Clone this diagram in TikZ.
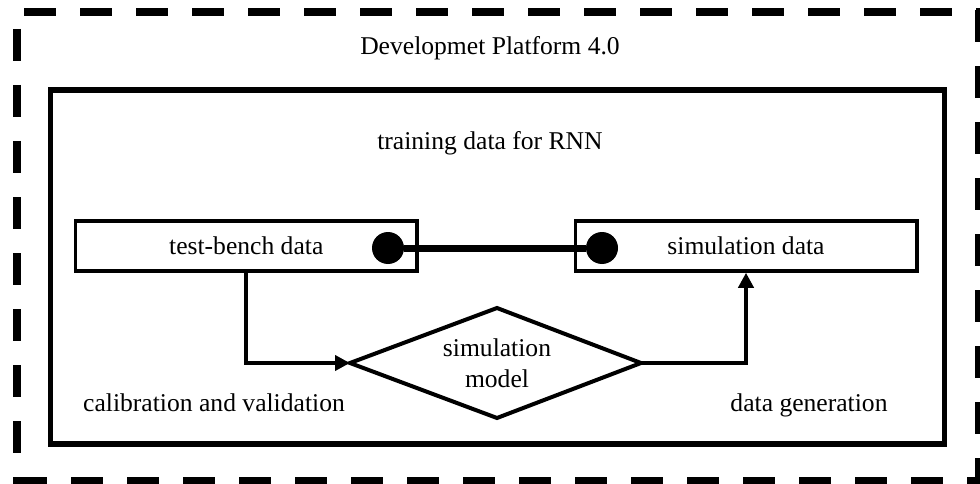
\documentclass[tikz,border=0pt]{standalone}
\usepackage{fontspec}
\setmainfont{Liberation Serif}
\usetikzlibrary{arrows.meta}
\begin{document}
\begin{tikzpicture}[x=1pt,y=-1pt,
  font=\fontsize{25.6}{31}\selectfont,
  outerdash/.style={line width=8pt,dash pattern=on 32pt off 24pt},
  box/.style={draw,line width=3.5pt,minimum width=341.5pt,minimum height=50pt,inner sep=0pt},
  dot/.style={circle,fill=black,inner sep=0pt,minimum size=32pt},
  arr/.style={line width=4pt,-{Triangle[length=15pt,width=15pt]}},
  lbl/.style={inner sep=0pt}]
\useasboundingbox (0,0) rectangle (980,484);
% outer dashed frame
\draw[outerdash] (24,12) -- (980,12);
\draw[outerdash] (16.5,29) -- (16.5,484);
\draw[outerdash] (15,481) -- (980,481);
\draw[outerdash] (979,10) -- (979,484);
% inner frame
\node[draw,line width=5.5pt,minimum width=894pt,minimum height=354pt,inner sep=0pt] (frame) at (497.5,267) {};
\node[lbl] (title) at (490,48) {Developmet Platform 4.0};
\node[lbl] (train) at (490,143) {training data for RNN};
% boxes
\node[box] (tb) at (246.25,246) {test-bench data};
\node[box] (sd) at (746,246) {simulation data};
\node[dot] (c1) at (388,248) {};
\node[dot] (c2) at (602,248) {};
\draw[line width=7pt] (c1) -- (c2);
% diamond
\coordinate (dl) at (350,363);
\coordinate (dt) at (497,308);
\coordinate (dr) at (641,363);
\coordinate (db) at (497,418);
\draw[line width=4pt,line join=miter] (dl) -- (dt) -- (dr) -- (db) -- cycle;
\node[lbl,align=center] (sim) at (497,363) {simulation\\model};
% connectors
\draw[arr] (tb.south) |- (dl);
\draw[arr] (dr) -| (sd.south);
% labels
\node[lbl] (cal) at (214,403) {calibration and validation};
\node[lbl] (gen) at (809,405) {data generation};
\end{tikzpicture}
\end{document}
